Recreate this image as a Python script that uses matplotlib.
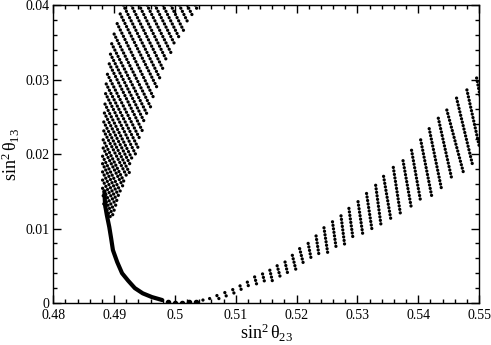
import matplotlib
matplotlib.use('Agg')
import matplotlib.pyplot as plt
from matplotlib.ticker import MultipleLocator, FormatStrFormatter

plt.rcParams['font.family'] = ['Liberation Serif', 'DejaVu Serif']
plt.rcParams['mathtext.fontset'] = 'custom'
plt.rcParams['mathtext.rm'] = 'Liberation Serif'
plt.rcParams['mathtext.it'] = 'Liberation Serif:italic'

# left branch: dotted streaks, start (x1, y1) -> end (x2, y2)
lb_x1 = [0.4928, 0.4941, 0.4954, 0.4967, 0.4980, 0.4993, 0.5007, 0.5020, 0.5033,
         0.4915, 0.4910, 0.4905, 0.4900, 0.4896, 0.4894, 0.4892, 0.4889, 0.4887,
         0.4886, 0.4885, 0.4884, 0.4883, 0.4883, 0.4882, 0.4882, 0.4881, 0.4881,
         0.4881, 0.4881, 0.4881, 0.4882, 0.4883]
lb_y1 = [0.0400, 0.0400, 0.0400, 0.0400, 0.0400, 0.0400, 0.0400, 0.0400, 0.0400,
         0.0400, 0.0388, 0.0375, 0.0361, 0.0348, 0.0334, 0.0321, 0.0307, 0.0294,
         0.0281, 0.0267, 0.0255, 0.0243, 0.0231, 0.0219, 0.0208, 0.0197, 0.0187,
         0.0176, 0.0165, 0.0154, 0.0144, 0.0133]
lb_x2 = [0.4981, 0.4986, 0.4994, 0.5001, 0.5007, 0.5014, 0.5021, 0.5028, 0.5036,
         0.4975, 0.4970, 0.4964, 0.4960, 0.4955, 0.4951, 0.4947, 0.4943, 0.4939,
         0.4935, 0.4931, 0.4928, 0.4925, 0.4922, 0.4918, 0.4916, 0.4912, 0.4909,
         0.4906, 0.4904, 0.4901, 0.4898, 0.4896]
lb_y2 = [0.0313, 0.0326, 0.0335, 0.0345, 0.0356, 0.0366, 0.0377, 0.0387, 0.0395,
         0.0302, 0.0290, 0.0277, 0.0263, 0.0252, 0.0241, 0.0230, 0.0219, 0.0209,
         0.0200, 0.0191, 0.0183, 0.0175, 0.0168, 0.0160, 0.0154, 0.0147, 0.0141,
         0.0135, 0.0129, 0.0123, 0.0118, 0.0112]

# right branch streaks
rb_x1 = [0.5496, 0.5480, 0.5463, 0.5447, 0.5433, 0.5418, 0.5404, 0.5389, 0.5375,
         0.5359, 0.5343, 0.5330, 0.5315, 0.5301, 0.5286, 0.5273, 0.5259, 0.5245,
         0.5232, 0.5219, 0.5205, 0.5193, 0.5181, 0.5168, 0.5156, 0.5144, 0.5131,
         0.5119, 0.5107, 0.5095, 0.5082, 0.5069, 0.5057, 0.5046]
rb_y1 = [0.0302, 0.0286, 0.0275, 0.0259, 0.0248, 0.0234, 0.0219, 0.0205, 0.0191,
         0.0182, 0.0170, 0.0158, 0.0147, 0.0136, 0.0127, 0.0117, 0.0109, 0.0101,
         0.0090, 0.0080, 0.0073, 0.0064, 0.0055, 0.0050, 0.0044, 0.0039, 0.0035,
         0.0028, 0.0023, 0.0018, 0.0014, 0.0010, 0.0006, 0.0004]
rb_x2 = [0.5514, 0.5501, 0.5490, 0.5474, 0.5455, 0.5438, 0.5422, 0.5404, 0.5389,
         0.5371, 0.5355, 0.5339, 0.5324, 0.5309, 0.5293, 0.5279, 0.5265, 0.5251,
         0.5237, 0.5224, 0.5212, 0.5199, 0.5186, 0.5174, 0.5160, 0.5148, 0.5135,
         0.5122, 0.5110, 0.5098, 0.5085, 0.5073, 0.5060, 0.5048]
rb_y2 = [0.0226, 0.0208, 0.0183, 0.0176, 0.0167, 0.0154, 0.0144, 0.0136, 0.0126,
         0.0118, 0.0112, 0.0103, 0.0098, 0.0091, 0.0085, 0.0078, 0.0074, 0.0068,
         0.0063, 0.0059, 0.0050, 0.0044, 0.0037, 0.0032, 0.0030, 0.0026, 0.0023,
         0.0019, 0.0015, 0.0011, 0.0008, 0.0005, 0.0003, 0.0002]

# dense band joining both branches
arc_x = [0.4884, 0.4885, 0.4888, 0.4892, 0.4895, 0.4898, 0.4905, 0.4913, 0.4923,
         0.4934, 0.4947, 0.4962, 0.4979]
arc_y = [0.0150, 0.0132, 0.0118, 0.0102, 0.0087, 0.0071, 0.0055, 0.0040, 0.0030,
         0.0020, 0.0013, 0.0008, 0.0004]
bot_x = [0.4989, 0.5000, 0.5011, 0.5023, 0.5034]
bot_y = [0.0001, 0.0000, 0.0000, 0.0001, 0.0002]

fig = plt.figure(figsize=(4.91, 3.45), dpi=100)
ax = fig.add_axes([0.1086, 0.1217, 0.8671, 0.8638])

dots = dict(color='black', lw=2.4, linestyle=(0, (0.01, 1.05)), dash_capstyle='round')
for xa, ya, xb, yb in zip(lb_x1, lb_y1, lb_x2, lb_y2):
    ax.plot([xa, xb], [ya, yb], **dots)
for xa, ya, xb, yb in zip(rb_x1, rb_y1, rb_x2, rb_y2):
    ax.plot([xa, xb], [ya, yb], **dots)
ax.plot(arc_x, arc_y, color='black', lw=3.0, solid_capstyle='round')
ax.plot(bot_x, bot_y, 'o', color='black', markersize=3.0)

ax.set_xlim(0.48, 0.55)
ax.set_ylim(0, 0.04)
ax.xaxis.set_major_locator(MultipleLocator(0.01))
ax.xaxis.set_minor_locator(MultipleLocator(0.002))
ax.yaxis.set_major_locator(MultipleLocator(0.01))
ax.yaxis.set_minor_locator(MultipleLocator(0.002))
ax.xaxis.set_major_formatter(FormatStrFormatter('%g'))
ax.yaxis.set_major_formatter(FormatStrFormatter('%g'))
ax.tick_params(which='both', direction='in', top=True, right=True, labelsize=10)
ax.tick_params(which='major', length=6, width=1)
ax.tick_params(which='minor', length=3, width=1)
ax.tick_params(axis='x', pad=4)
ax.tick_params(axis='y', pad=3)
for s in ax.spines.values():
    s.set_linewidth(1.0)

ax.set_xlabel(r'$\mathrm{sin^2\,\theta_{23}}$', fontsize=13, labelpad=0)
ax.set_ylabel(r'$\mathrm{sin^2\,\theta_{13}}$', fontsize=13, labelpad=2)

plt.savefig('out.png', dpi=100)
